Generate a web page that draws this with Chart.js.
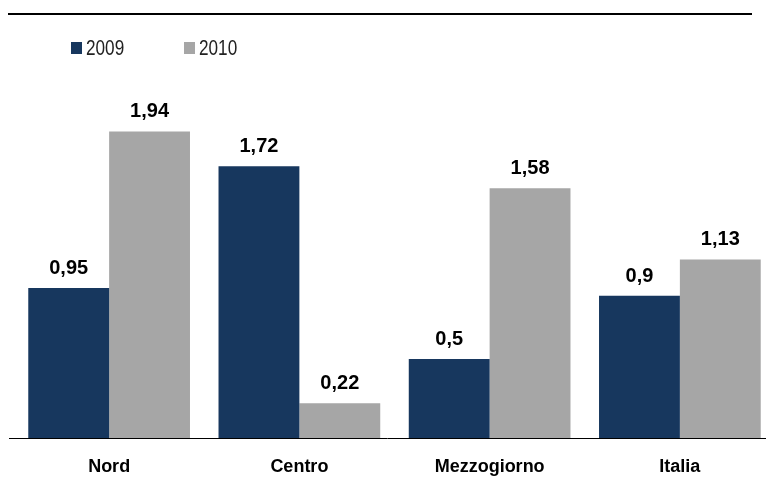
<!DOCTYPE html>
<html>
<head>
<meta charset="utf-8">
<script src="https://cdn.jsdelivr.net/npm/chart.js@4.4.1/dist/chart.umd.min.js"></script>
<style>
  html, body { margin: 0; padding: 0; background: #fff; overflow: hidden; }
  #wrap { width: 800px; height: 488px; position: relative; }
</style>
</head>
<body>
<div id="wrap"><canvas id="c"></canvas></div>
<script>
const categories = ['Nord', 'Centro', 'Mezzogiorno', 'Italia'];
const seriesLabels = ['2009', '2010'];
const values2009 = [0.95, 1.72, 0.5, 0.9];
const values2010 = [1.94, 0.22, 1.58, 1.13];
const seriesColors = ['#17375E', '#A6A6A6'];

const SANS = "'Liberation Sans', Arial, sans-serif";

const decorPlugin = {
  id: 'decor',
  afterDatasetsDraw(chart) {
    const ctx = chart.ctx;
    const yScale = chart.scales.y;
    const y0 = Math.round(yScale.getPixelForValue(0)) + 0.5;
    ctx.save();
    // top rule
    ctx.fillStyle = '#000';
    ctx.fillRect(8, 13, 744, 2);
    // baseline
    ctx.strokeStyle = '#000';
    ctx.lineWidth = 1;
    ctx.beginPath();
    ctx.moveTo(9, y0);
    ctx.lineTo(766, y0);
    ctx.stroke();
    // value labels
    ctx.font = "bold 20px " + SANS;
    ctx.fillStyle = '#000';
    ctx.textAlign = 'center';
    ctx.textBaseline = 'alphabetic';
    chart.data.datasets.forEach((ds, di) => {
      const meta = chart.getDatasetMeta(di);
      meta.data.forEach((bar, i) => {
        const txt = String(ds.data[i]).replace('.', ',');
        ctx.fillText(txt, bar.x, bar.y - 14);
      });
    });
    // legend (narrowed text)
    chart.data.datasets.forEach((ds, di) => {
      const x = 71 + di * 113;
      ctx.fillStyle = ds.backgroundColor;
      ctx.fillRect(x, 42, 11, 12);
      ctx.save();
      ctx.translate(x + 15, 55);
      ctx.scale(0.78, 1);
      ctx.font = "22px " + SANS;
      ctx.textAlign = 'left';
      ctx.textBaseline = 'alphabetic';
      ctx.fillStyle = '#222';
      ctx.fillText(ds.label, 0, 0);
      ctx.restore();
    });
    ctx.restore();
  }
};

new Chart(document.getElementById('c'), {
  type: 'bar',
  data: {
    labels: categories,
    datasets: [
      { label: seriesLabels[0], data: values2009, backgroundColor: seriesColors[0] },
      { label: seriesLabels[1], data: values2010, backgroundColor: seriesColors[1] }
    ]
  },
  options: {
    responsive: true,
    maintainAspectRatio: false,
    animation: false,
    layout: { padding: { left: 14, right: 25, top: 90.4, bottom: 10 } },
    datasets: { bar: { categoryPercentage: 0.85, barPercentage: 1.0 } },
    plugins: { legend: { display: false }, tooltip: { enabled: false } },
    scales: {
      x: {
        grid: { display: false, drawTicks: false },
        border: { display: false },
        ticks: { color: '#000', padding: 18, maxRotation: 0, font: { family: SANS, size: 18, weight: 'bold' } },
        afterFit(scale) { scale.height = 40; }
      },
      y: { display: false, min: 0, max: 2.2 }
    }
  },
  plugins: [decorPlugin]
});
</script>
</body>
</html>
